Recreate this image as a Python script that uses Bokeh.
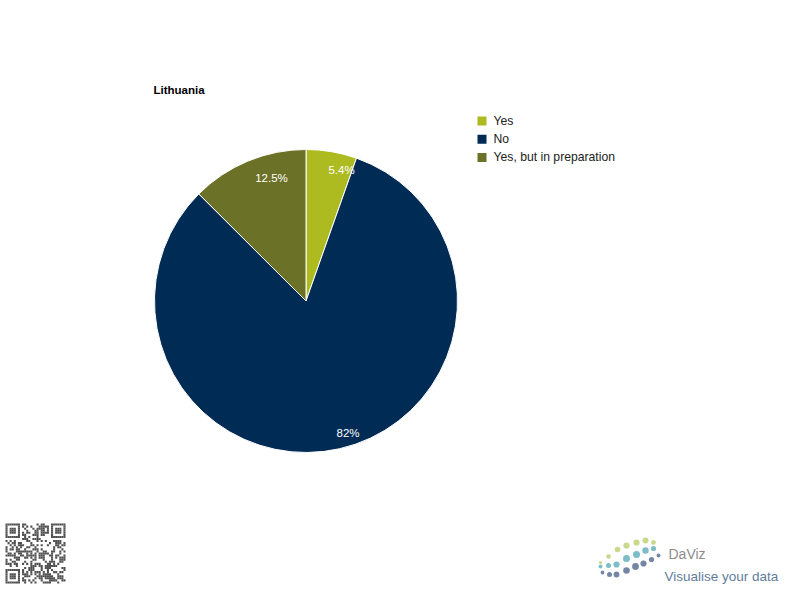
import hashlib
import numpy as np
from bokeh.plotting import figure
from bokeh.models import Range1d
from bokeh.core.properties import value
from bokeh.embed import file_html
from bokeh.resources import INLINE

# ---- data ----
title = "Lithuania"
categories = ["Yes", "No", "Yes, but in preparation"]
shares = [5.4, 82.0, 12.5]
slice_labels = ["5.4%", "82%", "12.5%"]

# ---- style ----
colors = ["#adbb21", "#002b54", "#6b7127"]
FONT = "Liberation Sans"
label_angle_nudge = [5.4, -4.9, 6.9]      # degrees, clockwise
label_radius_frac = [0.899, 0.912, 0.846]

W, H = 784, 584
p = figure(width=W, height=H, x_range=Range1d(0, W), y_range=Range1d(600 - H, 600),
           output_backend="svg", toolbar_location=None, min_border=0)
p.axis.visible = False
p.grid.visible = False
p.outline_line_color = None
p.background_fill_color = "white"
p.border_fill_color = "white"

def Y(img_y):
    return 600 - img_y

cx, cy, R = 305.5, Y(300.5), 151.5

# ---- pie ----
total = float(sum(shares))
cum = np.concatenate([[0.0], np.cumsum(shares)])
start = np.pi / 2 - 2 * np.pi * cum[:-1] / total
end = np.pi / 2 - 2 * np.pi * cum[1:] / total
p.wedge(x=cx, y=cy, radius=R, radius_units="screen",
        start_angle=list(start), end_angle=list(end), direction="clock",
        fill_color=colors, line_color="white", line_width=1)

mid_deg = 360.0 * (cum[:-1] + cum[1:]) / 2 / total + np.array(label_angle_nudge)
rad = np.deg2rad(mid_deg)
lx = cx + R * np.array(label_radius_frac) * np.sin(rad)
ly = cy + R * np.array(label_radius_frac) * np.cos(rad)
p.text(x=list(lx), y=list(ly), text=slice_labels, text_color="white",
       text_font=value(FONT), text_font_size="11.5px",
       text_align="center", text_baseline="middle")

# ---- title ----
p.text(x=[153], y=[Y(89.5)], text=[title], text_font=value(FONT),
       text_font_size="11.5px", text_font_style="bold", text_color="#000000",
       text_align="left", text_baseline="middle")

# ---- legend ----
leg_y = [Y(120.5 + 18.2 * i) for i in range(len(categories))]
p.rect(x=[481.5] * len(categories), y=leg_y, width=9, height=9,
       fill_color=colors, line_color=None)
p.text(x=[493] * len(categories), y=leg_y, text=categories, text_color="#222222",
       text_font=value(FONT), text_font_size="12.2px",
       text_align="left", text_baseline="middle")

# ---- QR-like decoration (bottom left) ----
n = 29
ms = 60.0 / n
bits = []
h = b"Lithuania"
while len(bits) < n * n:
    h = hashlib.sha256(h).digest()
    for byte in h:
        for k in range(8):
            bits.append((byte >> k) & 1)
grid = np.array(bits[:n * n]).reshape(n, n)
def finder(r0, c0):
    for r in range(-1, 8):
        for c in range(-1, 8):
            rr, cc = r0 + r, c0 + c
            if 0 <= rr < n and 0 <= cc < n:
                on = (0 <= r <= 6 and 0 <= c <= 6) and (r in (0, 6) or c in (0, 6) or (2 <= r <= 4 and 2 <= c <= 4))
                grid[rr, cc] = 1 if on else 0
finder(0, 0); finder(0, n - 7); finder(n - 7, 0)
rows, cols = np.nonzero(grid)
qx = 5 + (cols + 0.5) * ms
qy = Y(523 + (rows + 0.5) * ms)
p.rect(x=list(qx), y=list(qy), width=ms, height=ms, fill_color="#505050", line_color=None)

# ---- DaViz logo (bottom right) ----
dx, dy = -3, -13
dots_green = [(603, 575, 1.6), (611, 569, 2.3), (620, 562, 2.8), (629, 558, 3.1), (639, 555, 3.1), (648, 553, 3.0), (656, 555, 2.4)]
dots_teal = [(603, 579, 1.9), (611, 578, 2.5), (619, 577, 3.1), (629, 571, 3.5), (639, 567, 3.5), (648, 563, 3.2), (656, 561, 2.6)]
dots_blue = [(605, 585, 1.9), (612, 587, 2.5), (619, 587, 2.9), (629, 583, 3.3), (638, 579, 3.4), (646, 576, 3.1), (654, 572, 2.6), (661, 568, 1.9)]
for dots, col in [(dots_green, "#c9d98c"), (dots_teal, "#7dbdc8"), (dots_blue, "#7486a4")]:
    p.scatter(x=[d[0] + dx for d in dots], y=[Y(d[1] + dy) for d in dots],
              size=[2 * d[2] for d in dots], fill_color=col, line_color=None)
p.text(x=[671 + dx], y=[Y(566 + dy)], text=["DaViz"], text_color="#8c8c8c",
       text_font=value(FONT), text_font_size="14px", text_baseline="alphabetic")
p.text(x=[667 + dx], y=[Y(589 + dy)], text=["Visualise your data"], text_color="#5f7d9b",
       text_font=value(FONT), text_font_size="13.5px", text_baseline="alphabetic")

open("out.html", "w").write(file_html(p, INLINE))
